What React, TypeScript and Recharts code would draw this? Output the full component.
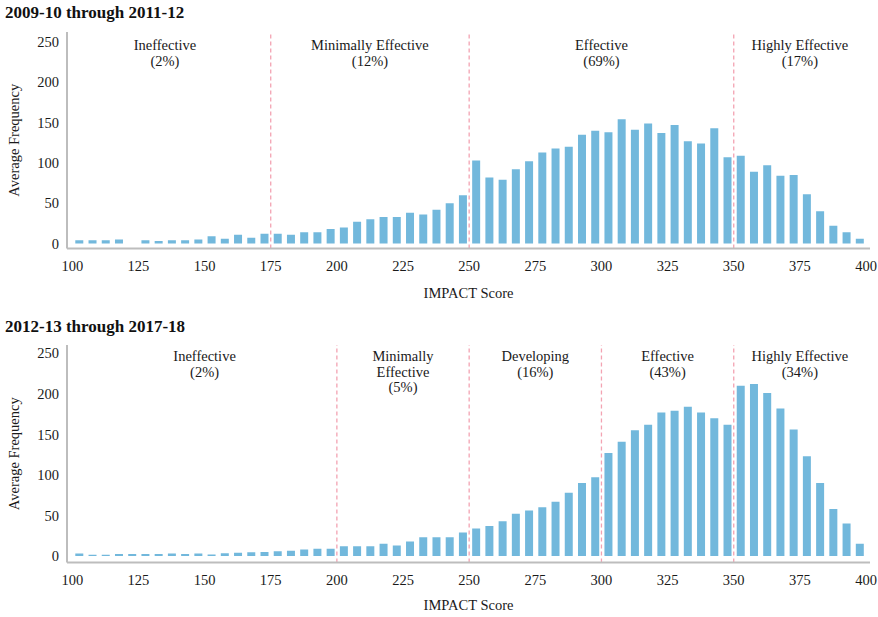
import React from 'react';
import { ComposedChart, Bar, XAxis, YAxis, ReferenceLine, ReferenceDot } from 'recharts';

// IMPACT score bins (bin centres, 5-point bins from 100 to 400)
const binCenters = [
  102.5, 107.5, 112.5, 117.5, 122.5, 127.5, 132.5, 137.5, 142.5, 147.5,
  152.5, 157.5, 162.5, 167.5, 172.5, 177.5, 182.5, 187.5, 192.5, 197.5,
  202.5, 207.5, 212.5, 217.5, 222.5, 227.5, 232.5, 237.5, 242.5, 247.5,
  252.5, 257.5, 262.5, 267.5, 272.5, 277.5, 282.5, 287.5, 292.5, 297.5,
  302.5, 307.5, 312.5, 317.5, 322.5, 327.5, 332.5, 337.5, 342.5, 347.5,
  352.5, 357.5, 362.5, 367.5, 372.5, 377.5, 382.5, 387.5, 392.5, 397.5,
];

// Average frequency, 2009-10 through 2011-12
const freq0912 = [
  4, 4, 4, 5, 0, 4, 3, 4, 4, 5,
  9, 6, 11, 7, 12, 12, 11, 14, 14, 18,
  20, 27, 30, 33, 33, 38, 36, 42, 50, 60,
  103, 82, 79, 92, 102, 113, 118, 120, 135, 140,
  138, 154, 141, 149, 137, 147, 127, 124, 143, 107,
  109, 89, 97, 84, 85, 61, 40, 22, 14, 6,
];

// Average frequency, 2012-13 through 2017-18
const freq1318 = [
  3, 1.5, 1.5, 2.5, 2.5, 2.5, 2.5, 3, 2.5, 3,
  2, 3.5, 4, 4.5, 5, 6, 6.5, 8, 9, 9,
  12, 12, 12, 15, 13, 18, 23, 23, 23, 29,
  34, 37, 43, 52, 56, 60, 67, 78, 90, 97,
  127, 141, 155, 162, 177, 179, 184, 177, 170, 162,
  210, 212, 201, 182, 156, 123, 90, 58, 40, 15,
];

const xTicks = [100, 125, 150, 175, 200, 225, 250, 275, 300, 325, 350, 375, 400];
const yTicks = [0, 50, 100, 150, 200, 250];

const cutoffs0912 = [175, 250, 350];
const bandNames0912 = ['Ineffective', 'Minimally Effective', 'Effective', 'Highly Effective'];
const bandPcts0912 = ['(2%)', '(12%)', '(69%)', '(17%)'];
const bandMids0912 = [135, 212.5, 300, 375];

const cutoffs1318 = [200, 250, 300, 350];
const bandNames1318 = ['Ineffective', 'Minimally\nEffective', 'Developing', 'Effective', 'Highly Effective'];
const bandPcts1318 = ['(2%)', '(5%)', '(16%)', '(43%)', '(34%)'];
const bandMids1318 = [150, 225, 275, 325, 375];

const FONT = '"Liberation Serif", "DejaVu Serif", serif';
const BAR_COLOR = '#72b8dc';
const LINE_COLOR = '#f3a3b2';
const AXIS_COLOR = '#bdbdbd';
const TEXT_COLOR = '#1a1a1a';

const makeBandLabel = (lines: string[]) => (props: any) => {
  const vb = props.viewBox || {};
  const cx = (vb.x ?? 0) + (vb.width ?? 0) / 2;
  const cy = (vb.y ?? 0) + (vb.height ?? 0) / 2;
  return (
    <text x={cx} y={cy + 3} textAnchor="middle" fontFamily={FONT} fontSize={14.5} fill={TEXT_COLOR}>
      {lines.map((l, i) => (
        <tspan key={i} x={cx} dy={i === 0 ? '0.35em' : '1.07em'}>{l}</tspan>
      ))}
    </text>
  );
};

type PanelProps = {
  title: string;
  values: number[];
  cutoffs: number[];
  names: string[];
  pcts: string[];
  mids: number[];
  yDomain: [number, number];
  top: number;
  height: number;
  marginTop: number;
  marginBottom: number;
  xLabelOffset: number;
  titleTop: number;
};

function Panel(p: PanelProps) {
  const data = binCenters.map((x, i) => ({ x, v: p.values[i] }));
  const tickStyle = { fontFamily: FONT, fontSize: 14.5, fill: TEXT_COLOR };
  return (
    <>
      <div
        style={{
          position: 'absolute',
          left: 5,
          top: p.titleTop,
          fontFamily: FONT,
          fontWeight: 'bold',
          fontSize: 17,
          lineHeight: '20px',
          color: '#111',
          whiteSpace: 'nowrap',
        }}
      >
        {p.title}
      </div>
      <div style={{ position: 'absolute', left: 0, top: p.top, width: 878, height: p.height }}>
        <ComposedChart
          width={878}
          height={p.height}
          data={data}
          margin={{ top: p.marginTop, right: 8, bottom: p.marginBottom, left: 0 }}
        >
          <XAxis
            dataKey="x"
            type="number"
            domain={[98, 401.5]}
            allowDataOverflow
            ticks={xTicks}
            tickLine={false}
            tickSize={6}
            tickMargin={6.5}
            height={50}
            axisLine={{ stroke: AXIS_COLOR, strokeWidth: 2 }}
            tick={tickStyle}
            interval={0}
            label={{
              value: 'IMPACT Score',
              position: 'insideBottom',
              offset: p.xLabelOffset,
              style: { fontFamily: FONT, fontSize: 14.5, fill: TEXT_COLOR },
            }}
          />
          <YAxis
            type="number"
            domain={p.yDomain}
            allowDataOverflow
            ticks={yTicks}
            width={67}
            tickLine={false}
            tickSize={4}
            tickMargin={4}
            axisLine={{ stroke: AXIS_COLOR, strokeWidth: 2 }}
            tick={tickStyle}
            interval={0}
            label={{
              value: 'Average Frequency',
              angle: -90,
              position: 'insideLeft',
              offset: 14,
              style: { fontFamily: FONT, fontSize: 14.5, fill: TEXT_COLOR, textAnchor: 'middle' },
            }}
          />
          {p.cutoffs.map((c) => (
            <ReferenceLine
              key={c}
              x={c}
              stroke={LINE_COLOR}
              strokeWidth={1.3}
              strokeDasharray="4 3"
            />
          ))}
          <Bar dataKey="v" fill={BAR_COLOR} barSize={8} isAnimationActive={false} />
          {p.mids.map((m, i) => (
            <ReferenceDot
              key={'lab' + i}
              x={m}
              y={250}
              r={0}
              fill="none"
              stroke="none"
              label={{ content: makeBandLabel([...p.names[i].split('\n'), p.pcts[i]]) }}
            />
          ))}
        </ComposedChart>
      </div>
    </>
  );
}

export default function App() {
  return (
    <div style={{ position: 'absolute', left: 0, top: 0, width: 878, height: 617, background: '#fff' }}>
      <Panel
        title="2009-10 through 2011-12"
        values={freq0912}
        cutoffs={cutoffs0912}
        names={bandNames0912}
        pcts={bandPcts0912}
        mids={bandMids0912}
        yDomain={[-6.2, 262.4]}
        top={0}
        height={300}
        marginTop={32}
        marginBottom={1.5}
        xLabelOffset={0.7}
        titleTop={3}
      />
      <Panel
        title="2012-13 through 2017-18"
        values={freq1318}
        cutoffs={cutoffs1318}
        names={bandNames1318}
        pcts={bandPcts1318}
        mids={bandMids1318}
        yDomain={[-8, 260.2]}
        top={300}
        height={317}
        marginTop={45}
        marginBottom={4.5}
        xLabelOffset={2.7}
        titleTop={317}
      />
    </div>
  );
}
